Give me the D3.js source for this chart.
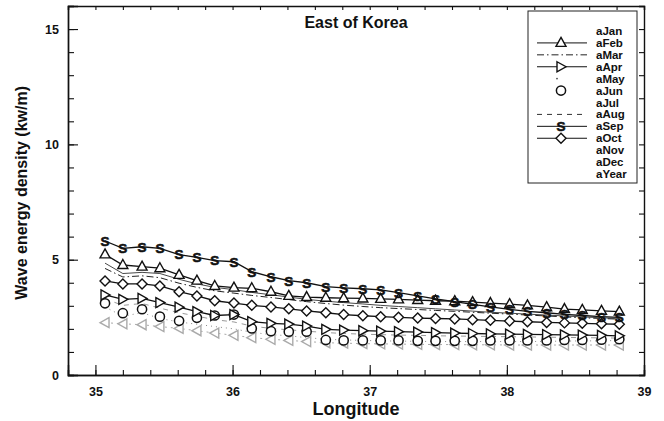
<!DOCTYPE html>
<html>
<head>
<meta charset="utf-8">
<script src="https://cdn.jsdelivr.net/npm/d3@7"></script>
<style>
  body { margin: 0; background: #fff; }
  text { font-family: "Liberation Sans", Arial, sans-serif; font-weight: bold; fill: #111; }
  .legend text { font-family: "Liberation Sans", Arial, sans-serif; font-size: 11.5px; }
</style>
</head>
<body>
<svg width="664" height="421"></svg>
<script>
// longitudes of the grid points
var lon = [35.07, 35.20, 35.34, 35.47, 35.61, 35.74, 35.87, 36.01, 36.14, 36.28, 36.41, 36.54, 36.68, 36.81,
  36.95, 37.08, 37.21, 37.35, 37.48, 37.62, 37.75, 37.88, 38.02, 38.15, 38.29, 38.42, 38.55, 38.69, 38.82];

// wave energy density per month (kw/m)
var aJan = [4.85, 4.40, 4.45, 4.40, 4.15, 3.95, 3.80, 3.70, 3.58, 3.48, 3.38, 3.28, 3.20, 3.14, 3.08, 3.02, 2.97, 2.92, 2.87, 2.82, 2.77, 2.72, 2.68, 2.64, 2.60, 2.56, 2.52, 2.48, 2.45];
var aFeb = [5.23, 4.77, 4.70, 4.63, 4.34, 4.09, 3.86, 3.79, 3.76, 3.61, 3.43, 3.38, 3.35, 3.33, 3.32, 3.30, 3.28, 3.25, 3.22, 3.20, 3.16, 3.12, 3.07, 3.02, 2.94, 2.86, 2.82, 2.78, 2.75];
var aMar = [4.62, 4.25, 4.30, 4.22, 3.98, 3.80, 3.65, 3.55, 3.45, 3.36, 3.27, 3.18, 3.10, 3.03, 2.97, 2.92, 2.88, 2.84, 2.80, 2.76, 2.72, 2.68, 2.64, 2.60, 2.56, 2.52, 2.48, 2.45, 2.42];
var aApr = [3.47, 3.28, 3.32, 3.14, 2.94, 2.75, 2.58, 2.62, 2.31, 2.24, 2.21, 2.12, 1.98, 1.95, 1.92, 1.90, 1.88, 1.86, 1.84, 1.82, 1.80, 1.78, 1.77, 1.76, 1.75, 1.74, 1.73, 1.72, 1.70];
var aMay = [2.95, 2.55, 2.70, 2.45, 2.30, 2.20, 2.10, 2.00, 1.85, 1.75, 1.70, 1.62, 1.55, 1.52, 1.50, 1.48, 1.47, 1.46, 1.45, 1.45, 1.45, 1.45, 1.45, 1.45, 1.46, 1.47, 1.48, 1.48, 1.50];
var aJun = [3.11, 2.68, 2.85, 2.53, 2.35, 2.48, 2.58, 2.62, 2.02, 1.90, 1.88, 1.88, 1.52, 1.50, 1.50, 1.50, 1.50, 1.48, 1.48, 1.48, 1.48, 1.50, 1.50, 1.50, 1.50, 1.52, 1.52, 1.53, 1.55];
var aAug = [3.30, 3.02, 3.10, 2.90, 2.70, 2.55, 2.40, 2.30, 2.12, 2.02, 1.96, 1.90, 1.84, 1.80, 1.77, 1.75, 1.73, 1.72, 1.70, 1.69, 1.68, 1.67, 1.66, 1.65, 1.64, 1.63, 1.62, 1.61, 1.60];
var aSep = [5.81, 5.49, 5.56, 5.49, 5.22, 5.10, 4.96, 4.91, 4.48, 4.26, 4.09, 4.00, 3.83, 3.78, 3.74, 3.69, 3.57, 3.43, 3.30, 3.18, 3.06, 2.95, 2.85, 2.76, 2.70, 2.63, 2.58, 2.53, 2.50];
var aOct = [4.08, 3.95, 3.95, 3.86, 3.61, 3.43, 3.22, 3.12, 3.02, 2.95, 2.87, 2.78, 2.70, 2.62, 2.57, 2.53, 2.50, 2.47, 2.45, 2.43, 2.40, 2.37, 2.34, 2.31, 2.28, 2.26, 2.24, 2.22, 2.20];
var aNov = [2.27, 2.22, 2.18, 2.10, 2.02, 1.92, 1.82, 1.72, 1.62, 1.55, 1.50, 1.45, 1.40, 1.38, 1.36, 1.35, 1.34, 1.33, 1.32, 1.32, 1.31, 1.31, 1.30, 1.30, 1.30, 1.30, 1.30, 1.30, 1.30];

// legend entries in order
var legendNames = ["aJan", "aFeb", "aMar", "aApr", "aMay", "aJun", "aJul", "aAug", "aSep", "aOct", "aNov", "aDec", "aYear"];

var yTicks = [0, 5, 10, 15];
var xTicks = [35, 36, 37, 38, 39];

// drawn series (values + how they look)
var series = [
  {name: "aAug", values: aAug, dash: "5,5", color: "#999", width: 1, marker: null, legend: true},
  {name: "aMay", values: aMay, dash: "1,4", color: "#888", width: 1, marker: null, legend: true},
  {name: "aNov", values: aNov, dash: "2,4", color: "#aaa", width: 1, marker: "left", legend: false},
  {name: "aJan", values: aJan, dash: null, color: "#333", width: 0.9, marker: null, legend: false},
  {name: "aMar", values: aMar, dash: "7,3,1.5,3", color: "#222", width: 1, marker: null, legend: true},
  {name: "aJun", values: aJun, dash: null, color: "#111", width: 0, marker: "circle", legend: true},
  {name: "aApr", values: aApr, dash: null, color: "#111", width: 1.3, marker: "right", legend: true},
  {name: "aOct", values: aOct, dash: null, color: "#111", width: 1.3, marker: "diamond", legend: true},
  {name: "aFeb", values: aFeb, dash: null, color: "#111", width: 1.3, marker: "up", legend: true},
  {name: "aSep", values: aSep, dash: null, color: "#111", width: 1.3, marker: "S", legend: true}
];

var svg = d3.select("svg");
var margin = {left: 68, right: 20, top: 6, bottom: 46};
var width = +svg.attr("width");
var height = +svg.attr("height");

var x = d3.scaleLinear().domain([34.8, 39]).range([margin.left, width - margin.right]);
var y = d3.scaleLinear().domain([0, 16]).range([height - margin.bottom, margin.top]);

var markerPaths = {
  up: "M0,-5.5L5,3.5L-5,3.5Z",
  right: "M-4,-5L5,0L-4,5Z",
  left: "M4,-5L-5,0L4,5Z",
  diamond: "M0,-5L5,0L0,5L-5,0Z"
};

// axes, ticks inside
function minor(step, lo, hi) {
  var out = [];
  for (var v = lo; v <= hi + 1e-9; v += step) out.push(+v.toFixed(2));
  return out;
}

svg.append("g")
  .attr("transform", "translate(0," + y(0) + ")")
  .call(d3.axisBottom(x).tickValues(minor(0.2, 34.8, 39)).tickSize(-5).tickFormat(""));
svg.append("g")
  .attr("transform", "translate(0," + y(0) + ")")
  .call(d3.axisBottom(x).tickValues(xTicks).tickSize(-10).tickPadding(12).tickFormat(d3.format("d")));
svg.append("g")
  .attr("transform", "translate(" + x(34.8) + ",0)")
  .call(d3.axisLeft(y).tickValues(minor(1, 0, 16)).tickSize(-6).tickFormat(""));
svg.append("g")
  .attr("transform", "translate(" + x(34.8) + ",0)")
  .call(d3.axisLeft(y).tickValues(yTicks).tickSize(-10).tickPadding(9).tickFormat(d3.format("d")));
// mirrored on top / right
svg.append("g")
  .attr("transform", "translate(0," + y(16) + ")")
  .call(d3.axisTop(x).tickValues(minor(0.2, 34.8, 39)).tickSize(-4).tickFormat(""));
svg.append("g")
  .attr("transform", "translate(" + x(39) + ",0)")
  .call(d3.axisRight(y).tickValues(minor(1, 0, 16)).tickSize(-5).tickFormat(""));

svg.selectAll(".domain").attr("stroke", "#111").attr("stroke-width", 1.4);
svg.selectAll(".tick line").attr("stroke", "#111").attr("stroke-width", 1.1);
svg.selectAll(".tick text").style("font-size", "12.5px").style("font-weight", "bold").attr("fill", "#111");

// lines
var line = d3.line()
  .x(function(d, i) { return x(lon[i]); })
  .y(function(d) { return y(d); });

series.forEach(function(s) {
  if (s.width > 0) {
    svg.append("path")
      .attr("d", line(s.values))
      .attr("fill", "none")
      .attr("stroke", s.color)
      .attr("stroke-width", s.width)
      .attr("stroke-dasharray", s.dash);
  }
  if (!s.marker) return;
  var g = svg.append("g");
  var pts = g.selectAll("g").data(s.values).enter().append("g")
    .attr("transform", function(d, i) { return "translate(" + x(lon[i]) + "," + y(d) + ")"; });
  drawMarker(pts, s.marker, s.color);
});

function drawMarker(sel, type, color) {
  if (type === "S") {
    sel.append("text")
      .attr("text-anchor", "middle")
      .attr("dy", "0.36em")
      .style("font-size", "13.5px")
      .attr("fill", color)
      .attr("stroke", color)
      .attr("stroke-width", 0.6)
      .text("S");
  } else if (type === "circle") {
    sel.append("circle").attr("r", 4.6)
      .attr("fill", "#fff").attr("stroke", color).attr("stroke-width", 1.5);
  } else {
    sel.append("path").attr("d", markerPaths[type])
      .attr("fill", "#fff").attr("stroke", color).attr("stroke-width", 1.4);
  }
}

// title + axis labels
svg.append("text")
  .attr("x", (x(34.8) + x(39)) / 2).attr("y", 28)
  .attr("text-anchor", "middle")
  .style("font-size", "16px")
  .text("East of Korea");

svg.append("text")
  .attr("x", (x(34.8) + x(39)) / 2).attr("y", 415)
  .attr("text-anchor", "middle")
  .style("font-size", "18px")
  .text("Longitude");

svg.append("text")
  .attr("transform", "translate(27," + y(7.9) + ") rotate(-90)")
  .attr("text-anchor", "middle")
  .style("font-size", "16px")
  .text("Wave energy density (kw/m)");

// legend
var leg = svg.append("g").attr("class", "legend");
leg.append("rect")
  .attr("x", 528).attr("y", 11).attr("width", 109).attr("height", 172)
  .attr("fill", "#fff").attr("stroke", "#222").attr("stroke-width", 1);

var rowY = d3.scalePoint().domain(legendNames).range([31, 174]);

legendNames.forEach(function(name) {
  var yy = rowY(name);
  leg.append("text").attr("x", 596).attr("y", yy + 4).text(name);
  var s = series.filter(function(d) { return d.name === name && d.legend; })[0];
  if (!s) return;
  if (s.name === "aMay") {
    leg.append("circle").attr("cx", 557).attr("cy", yy).attr("r", 0.8).attr("fill", "#333");
    return;
  }
  if (s.width > 0) {
    leg.append("line")
      .attr("x1", 537).attr("x2", 587).attr("y1", yy).attr("y2", yy)
      .attr("stroke", s.name === "aAug" ? "#333" : s.color)
      .attr("stroke-width", 1)
      .attr("stroke-dasharray", s.dash);
  }
  if (s.marker) {
    var m = leg.append("g").attr("transform", "translate(561," + yy + ")");
    drawMarker(m, s.marker, s.color);
  }
});
</script>
</body>
</html>
